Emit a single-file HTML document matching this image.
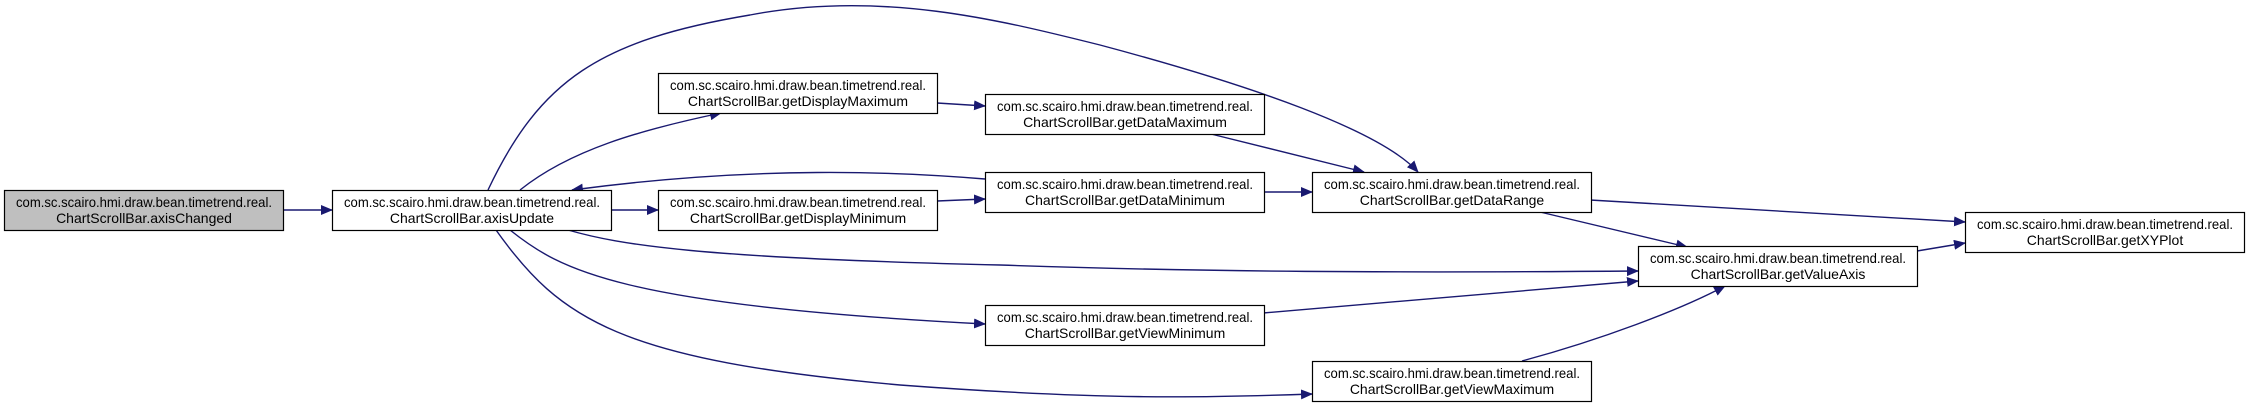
<!DOCTYPE html>
<html><head><meta charset="utf-8"><style>
html,body{margin:0;padding:0;background:#fff;}
svg{display:block;}
text{font-family:"Liberation Sans",Arial,sans-serif;font-size:14px;fill:#000;}
</style></head><body>
<svg width="2249" height="407" viewBox="0 0 2249 407" xmlns="http://www.w3.org/2000/svg">
<defs>
<marker id="a" markerWidth="12" markerHeight="10" refX="11" refY="5" orient="auto" markerUnits="userSpaceOnUse">
<path d="M0,0 L12,5 L0,10 Z" fill="#191970"/>
</marker>
</defs>
<g fill="none" stroke="#191970" stroke-width="1.4" marker-end="url(#a)">
<path d="M284,210 L332,210"/>
<path d="M520,190 C570,150 640,130 721,113"/>
<path d="M610,210 L658,210"/>
<path d="M985,179 C900,172 760,165 572,190"/>
<path d="M488,190 C540,80 600,40 750,15 C880,-10 1000,20 1100,45 C1250,85 1380,130 1418,172"/>
<path d="M937,103 L985,106"/>
<path d="M937,201 L985,199"/>
<path d="M1211,134 L1364,172"/>
<path d="M1263,192 L1312,192"/>
<path d="M1590,200 L1965,222"/>
<path d="M1540,212 L1687,247"/>
<path d="M1917,251 L1965,243"/>
<path d="M568,230 C620,245 700,258 1000,265 C1200,272 1400,273 1638,271"/>
<path d="M510,230 C560,270 620,305 985,324"/>
<path d="M496,230 C560,320 620,360 900,385 C1100,400 1200,398 1312,394"/>
<path d="M1263,313 L1638,281"/>
<path d="M1522,361 C1600,340 1680,310 1725,286"/>
</g>
<g stroke="#000" stroke-width="1.2">
<rect x="4.5" y="190.5" width="279" height="40" fill="#bfbfbf"/>
<rect x="332.5" y="190.5" width="279" height="40" fill="#fff"/>
<rect x="658.5" y="73.5" width="279" height="40" fill="#fff"/>
<rect x="658.5" y="190.5" width="279" height="40" fill="#fff"/>
<rect x="985.5" y="94.5" width="279" height="40" fill="#fff"/>
<rect x="985.5" y="172.5" width="279" height="40" fill="#fff"/>
<rect x="1312.5" y="172.5" width="279" height="40" fill="#fff"/>
<rect x="1638.5" y="246.5" width="279" height="40" fill="#fff"/>
<rect x="1965.5" y="212.5" width="279" height="40" fill="#fff"/>
<rect x="985.5" y="305.5" width="279" height="40" fill="#fff"/>
<rect x="1312.5" y="361.5" width="279" height="40" fill="#fff"/>
</g>
<g text-anchor="middle">
<text x="144" y="207" textLength="256" lengthAdjust="spacingAndGlyphs">com.sc.scairo.hmi.draw.bean.timetrend.real.</text>
<text x="144" y="223">ChartScrollBar.axisChanged</text>
<text x="472" y="207" textLength="256" lengthAdjust="spacingAndGlyphs">com.sc.scairo.hmi.draw.bean.timetrend.real.</text>
<text x="472" y="223">ChartScrollBar.axisUpdate</text>
<text x="798" y="90" textLength="256" lengthAdjust="spacingAndGlyphs">com.sc.scairo.hmi.draw.bean.timetrend.real.</text>
<text x="798" y="106">ChartScrollBar.getDisplayMaximum</text>
<text x="798" y="207" textLength="256" lengthAdjust="spacingAndGlyphs">com.sc.scairo.hmi.draw.bean.timetrend.real.</text>
<text x="798" y="223">ChartScrollBar.getDisplayMinimum</text>
<text x="1125" y="111" textLength="256" lengthAdjust="spacingAndGlyphs">com.sc.scairo.hmi.draw.bean.timetrend.real.</text>
<text x="1125" y="127">ChartScrollBar.getDataMaximum</text>
<text x="1125" y="189" textLength="256" lengthAdjust="spacingAndGlyphs">com.sc.scairo.hmi.draw.bean.timetrend.real.</text>
<text x="1125" y="205">ChartScrollBar.getDataMinimum</text>
<text x="1452" y="189" textLength="256" lengthAdjust="spacingAndGlyphs">com.sc.scairo.hmi.draw.bean.timetrend.real.</text>
<text x="1452" y="205">ChartScrollBar.getDataRange</text>
<text x="1778" y="263" textLength="256" lengthAdjust="spacingAndGlyphs">com.sc.scairo.hmi.draw.bean.timetrend.real.</text>
<text x="1778" y="279">ChartScrollBar.getValueAxis</text>
<text x="2105" y="229" textLength="256" lengthAdjust="spacingAndGlyphs">com.sc.scairo.hmi.draw.bean.timetrend.real.</text>
<text x="2105" y="245">ChartScrollBar.getXYPlot</text>
<text x="1125" y="322" textLength="256" lengthAdjust="spacingAndGlyphs">com.sc.scairo.hmi.draw.bean.timetrend.real.</text>
<text x="1125" y="338">ChartScrollBar.getViewMinimum</text>
<text x="1452" y="378" textLength="256" lengthAdjust="spacingAndGlyphs">com.sc.scairo.hmi.draw.bean.timetrend.real.</text>
<text x="1452" y="394">ChartScrollBar.getViewMaximum</text>
</g>
</svg>
</body></html>
